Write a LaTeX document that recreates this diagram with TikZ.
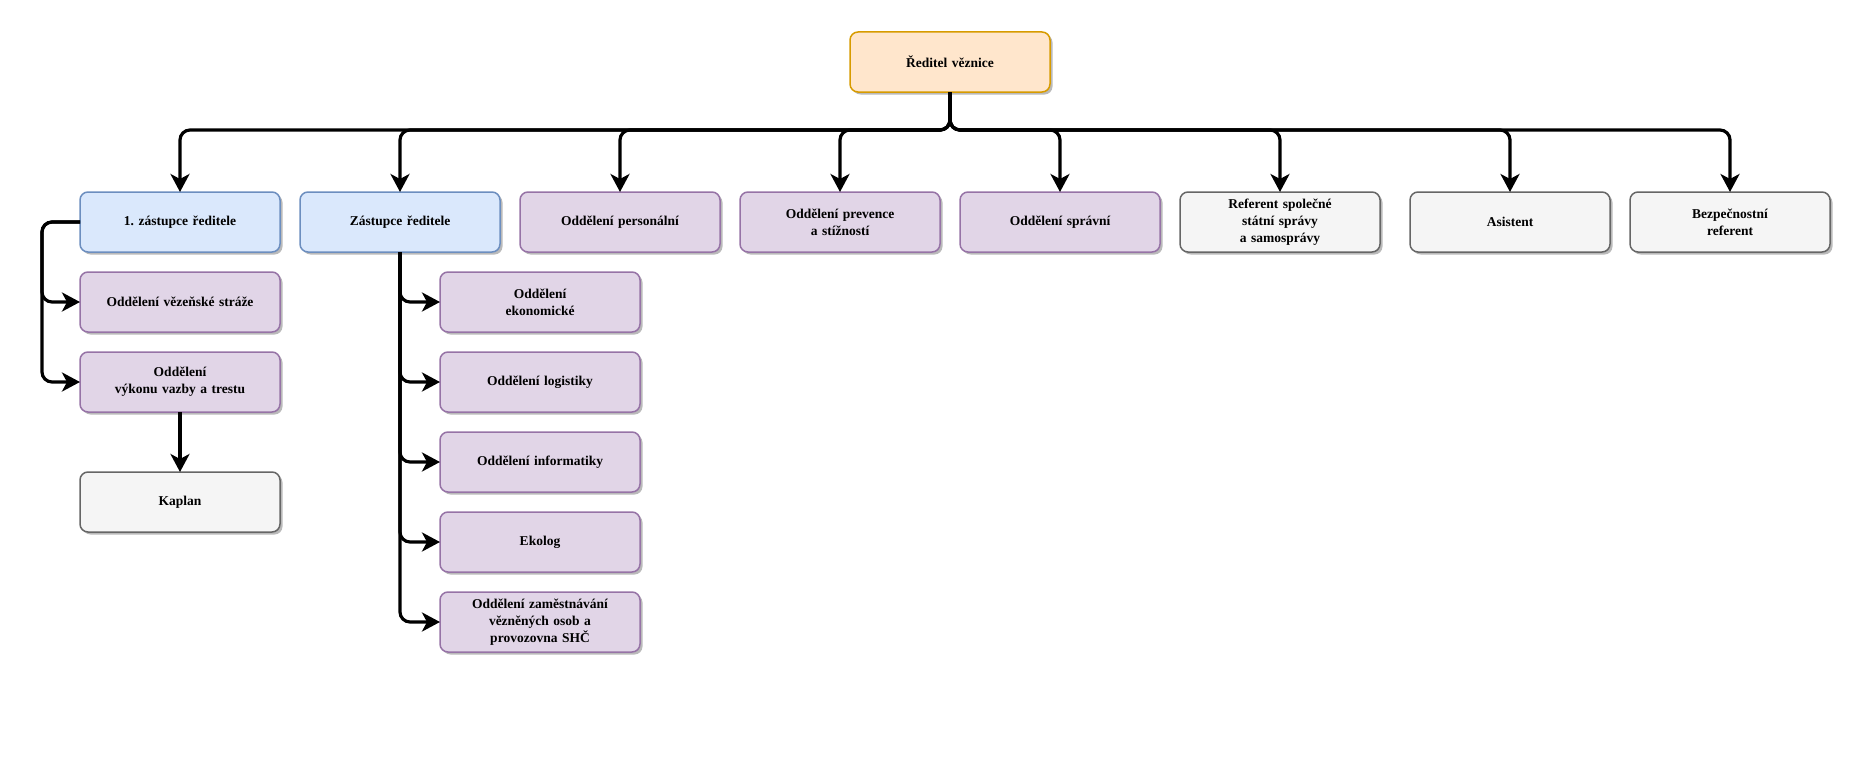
\documentclass[tikz,border=0pt]{standalone}
\usepackage{fontspec}
\setmainfont{Liberation Serif}
\usetikzlibrary{arrows.meta, positioning, shadows}

\definecolor{headfill}{HTML}{FFE6CC}
\definecolor{headline}{HTML}{D79B00}
\definecolor{deputyfill}{HTML}{DAE8FC}
\definecolor{deputyline}{HTML}{6C8EBF}
\definecolor{deptfill}{HTML}{E1D5E7}
\definecolor{deptline}{HTML}{9673A6}
\definecolor{stafffill}{HTML}{F5F5F5}
\definecolor{staffline}{HTML}{666666}

\begin{document}
\begin{tikzpicture}[
    x=1pt, y=-1pt,
    node distance=20pt and 20pt,
    box/.style={rectangle, draw, line width=1.5pt, minimum width=200pt, minimum height=60pt, text width=190pt, align=center, rounded corners=8pt, outer sep=0pt, font=\fontsize{13.5}{17}\selectfont\bfseries, drop shadow={shadow xshift=2.5pt, shadow yshift=-2.5pt, fill=black!45, opacity=0.6}},
    head/.style={box, fill=headfill, draw=headline},
    deputy/.style={box, fill=deputyfill, draw=deputyline},
    dept/.style={box, fill=deptfill, draw=deptline},
    staff/.style={box, fill=stafffill, draw=staffline},
    line/.style={draw, line width=3.2pt, rounded corners=10pt, -{Stealth[length=18pt, width=19pt, inset=5pt]}}
]
    \useasboundingbox (0,0) rectangle (1873,776);

    % Nodes
    \node[head] (director) at (950,62) {Ředitel věznice};

    \node[deputy] (first) at (180,222) {1.\ zástupce ředitele};
    \node[deputy, right=of first] (deputy) {Zástupce ředitele};
    \node[dept, right=of deputy] (personal) {Oddělení personální};
    \node[dept, right=of personal] (prevention) {Oddělení prevence\\a stížností};
    \node[dept, right=of prevention] (admin) {Oddělení správní};
    \node[staff, right=of admin] (referent) {Referent společné\\státní správy\\a samosprávy};
    \node[staff, right=30pt of referent] (assistant) {Asistent};
    \node[staff, right=of assistant] (security) {Bezpečnostní\\referent};

    % First deputy's units
    \node[dept, below=of first] (guard) {Oddělení vězeňské stráže};
    \node[dept, below=of guard] (custody) {Oddělení\\výkonu vazby a trestu};
    \node[staff, below=60pt of custody] (chaplain) {Kaplan};

    % Deputy's units
    \node[dept, below=of deputy, xshift=140pt] (economic) {Oddělení\\ekonomické};
    \node[dept, below=of economic] (logistics) {Oddělení logistiky};
    \node[dept, below=of logistics] (it) {Oddělení informatiky};
    \node[dept, below=of it] (ecolog) {Ekolog};
    \node[dept, below=of ecolog] (employment) {Oddělení zaměstnávání\\vězněných osob a\\provozovna SHČ};

    % Arrows
    \foreach \n in {first, deputy, personal, prevention, admin, referent, assistant, security}
        \path[line] (director.south) -- ++(0,38) -| (\n.north);

    \foreach \n in {guard, custody}
        \path[line] (first.west) -- ++(-38,0) |- (\n.west);
    \path[line] (custody) -- (chaplain);

    \foreach \n in {economic, logistics, it, ecolog, employment}
        \path[line] (deputy.south) |- (\n.west);

\end{tikzpicture}
\end{document}
